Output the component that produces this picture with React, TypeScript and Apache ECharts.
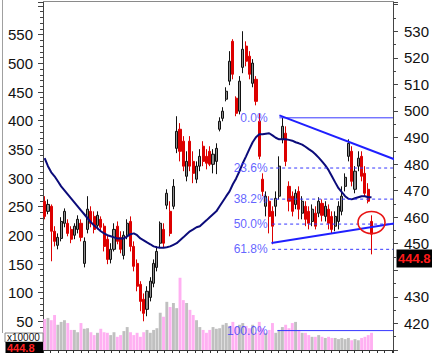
import React, { useEffect, useRef } from "react";
import * as echarts from "echarts";

// candle data: [open, close, low, high] (price, right axis)
const ohlc: [number, number, number, number][] = [
  [466.0, 460.3, 459.2, 467.9], [462.2, 464.8, 461.1, 466.7], [464.1, 454.7, 443.4, 464.8], [454.7, 450.9, 449.0, 456.6],
  [449.4, 452.4, 447.9, 453.9], [452.0, 458.4, 450.9, 460.0], [457.7, 462.2, 456.2, 463.3], [457.7, 453.9, 452.8, 459.2],
  [455.4, 451.7, 450.2, 456.6], [453.2, 456.6, 451.7, 457.7], [455.4, 459.2, 453.9, 460.7], [457.7, 452.4, 450.9, 459.2],
  [442.6, 450.9, 441.1, 452.4], [455.4, 463.0, 453.9, 467.9], [462.2, 457.7, 456.2, 464.1], [460.3, 455.4, 453.9, 462.2],
  [456.9, 460.7, 455.4, 462.2], [459.2, 456.2, 454.7, 460.3], [456.6, 449.0, 447.1, 457.7], [451.7, 444.1, 442.3, 453.2],
  [444.1, 447.9, 442.6, 450.2], [447.9, 455.4, 447.1, 457.7], [456.6, 450.9, 449.8, 458.4], [452.4, 447.9, 446.4, 454.7],
  [445.6, 453.2, 444.1, 454.7], [453.2, 457.7, 451.7, 459.2], [458.4, 449.0, 447.1, 460.3], [449.0, 441.5, 439.6, 450.9],
  [442.6, 434.0, 432.1, 444.1], [434.7, 428.3, 424.6, 435.9], [429.1, 423.8, 420.8, 431.3], [425.3, 432.1, 422.7, 434.0],
  [429.8, 435.9, 428.3, 437.4], [435.1, 442.6, 433.6, 444.1], [441.1, 447.1, 439.6, 449.0], [450.2, 457.7, 448.3, 458.4],
  [455.4, 450.2, 448.7, 457.7], [464.5, 469.0, 463.0, 470.5], [462.2, 453.9, 452.8, 466.0], [464.1, 471.6, 463.0, 474.3],
  [485.9, 492.3, 484.1, 498.0], [493.1, 484.8, 481.0, 495.4], [488.6, 479.2, 477.3, 490.5], [475.4, 481.0, 473.5, 484.8],
  [488.6, 479.2, 477.3, 490.5], [481.0, 476.5, 472.8, 484.8], [474.3, 479.2, 472.8, 481.0], [479.2, 482.9, 477.3, 485.6],
  [486.7, 481.0, 479.2, 488.6], [482.9, 480.3, 478.0, 485.6], [484.8, 479.9, 479.2, 486.7], [479.9, 483.7, 476.5, 485.6],
  [481.0, 485.9, 476.2, 487.8], [493.1, 496.1, 492.3, 497.6], [497.2, 499.9, 496.1, 501.4], [504.4, 507.4, 503.6, 508.9],
  [511.2, 518.7, 509.7, 522.5], [526.2, 513.8, 511.9, 527.0], [504.8, 499.1, 498.0, 505.5], [499.9, 511.2, 498.7, 513.1],
  [516.4, 523.2, 514.2, 530.0], [524.4, 518.7, 516.8, 526.2], [520.6, 513.8, 511.9, 522.5], [510.4, 518.0, 508.9, 519.5],
  [511.9, 503.6, 502.1, 513.1], [496.1, 482.9, 481.8, 499.1], [474.3, 469.7, 467.9, 476.5], [464.1, 467.9, 460.3, 469.7],
  [466.0, 460.3, 453.9, 467.9], [462.2, 456.6, 449.8, 464.1], [464.1, 467.1, 460.3, 469.7], [467.9, 479.2, 466.7, 482.9],
  [489.3, 494.2, 487.8, 497.4], [491.6, 481.0, 479.2, 494.2], [471.6, 466.0, 462.2, 473.5], [467.9, 462.2, 460.3, 469.7],
  [464.8, 469.0, 463.0, 470.5], [469.7, 463.0, 459.2, 471.6], [461.5, 466.0, 459.2, 467.9], [464.1, 459.2, 456.6, 466.0],
  [462.2, 457.7, 455.4, 464.1], [458.4, 463.0, 456.6, 464.8], [461.5, 456.6, 455.4, 464.1], [461.5, 466.0, 460.0, 467.5],
  [465.2, 460.7, 458.4, 466.7], [460.3, 464.1, 458.4, 466.0], [463.0, 457.7, 455.4, 464.8], [460.3, 455.4, 453.9, 462.2],
  [456.6, 460.3, 454.7, 462.2], [458.4, 464.1, 455.4, 466.0], [462.2, 467.9, 460.7, 471.6], [471.6, 475.0, 469.7, 476.5],
  [482.9, 487.8, 481.0, 489.3], [484.8, 473.5, 471.6, 486.7], [470.5, 477.3, 469.0, 479.2], [479.2, 482.2, 477.3, 484.8],
  [482.9, 475.4, 473.5, 484.8], [476.5, 469.0, 467.9, 479.2], [470.5, 466.0, 465.2, 472.8], [458.4, 453.6, 446.0, 460.7],
];

// moving average (price)
const movingAvg: number[] = [
  482.2, 479.2, 476.9, 475.4, 473.5, 471.6, 470.1, 468.6, 467.1, 465.6,
  464.1, 462.6, 461.1, 459.6, 458.1, 456.9, 455.8, 454.7, 453.9, 453.2,
  452.8, 452.4, 452.0, 452.0, 452.0, 452.8, 453.6, 453.9, 453.2, 452.0,
  451.3, 450.5, 449.8, 449.0, 448.7, 448.5, 448.5, 448.7, 449.0, 449.6,
  450.2, 451.3, 452.4, 453.6, 454.7, 455.4, 456.2, 456.6, 457.7, 458.8,
  460.0, 461.1, 462.2, 464.1, 466.0, 467.9, 469.7, 472.4, 474.6, 477.3,
  480.3, 482.9, 485.6, 488.2, 490.1, 491.2, 491.2, 491.4, 491.6, 490.8,
  489.9, 489.3, 489.3, 489.3, 489.1, 488.8, 488.2, 487.8, 487.3, 486.5,
  485.6, 484.8, 483.7, 482.4, 481.0, 479.5, 477.7, 475.4, 473.1, 470.9,
  469.4, 467.9, 466.9, 466.7, 467.1, 467.5, 467.9, 467.9, 467.5, 467.5,
];

// volume (x10000, left axis)
const volume: number[] = [
  54, 56, 52, 61, 44, 49, 52, 47, 35, 35,
  31, 47, 37, 38, 31, 26, 30, 37, 31, 30,
  26, 31, 23, 26, 33, 40, 31, 26, 30, 23,
  31, 35, 30, 35, 38, 65, 58, 84, 75, 82,
  73, 126, 87, 82, 70, 61, 52, 40, 35, 30,
  35, 40, 37, 38, 44, 47, 42, 49, 40, 44,
  47, 42, 38, 44, 30, 49, 38, 30, 35, 47,
  30, 35, 40, 44, 38, 47, 49, 35, 30, 30,
  26, 23, 23, 26, 23, 21, 23, 21, 21, 19,
  21, 19, 21, 17, 19, 17, 21, 23, 26, 30,
];

const slotCount = 106;
const categories: string[] = Array.from({ length: slotCount }, (_, i) => String(i + 1));

const fibLabels = ["0.0%", "23.6%", "38.2%", "50.0%", "61.8%", "100.0%"];
const fibLevels = [497.4, 478.5, 466.8, 457.4, 447.9, 417.3];
const fibStarts = [71.6, 68.8, 68.8, 69.4, 69.4, 71.0];
const fibDashed = [false, true, true, true, true, false];
const fibLabelX = 68.5;

const upperTrend: [number, number][] = [[71.6, 498.3], [107.9, 481.1]];
const lowerTrend: [number, number][] = [[69.2, 450.3], [107.3, 457.8]];

const lastPrice = 444.8;
const circleAt: [number, number] = [99, 458.0];

const FONT = "'Liberation Sans', Arial, sans-serif";
const NARROW = "'Liberation Sans Narrow', 'Liberation Sans', Arial, sans-serif";
const FIB_COLOR = "#3636ff";

export default function App() {
  const ref = useRef<HTMLDivElement>(null);

  useEffect(() => {
    if (!ref.current) return;
    const chart = echarts.init(ref.current, undefined, { renderer: "svg" });

    const fibSeries = fibLevels.map((lv, k) => ({
      type: "line",
      xAxisIndex: 1,
      yAxisIndex: 1,
      data: [[fibStarts[k], lv], [slotCount, lv]],
      symbol: "none",
      silent: true,
      z: 5,
      lineStyle: { color: FIB_COLOR, width: 1, type: fibDashed[k] ? [3, 3] : "solid" },
    }));

    const option: any = {
      animation: false,
      backgroundColor: "#ffffff",
      grid: { left: 43, right: 38, top: 2, bottom: 3 },
      xAxis: [
        {
          type: "category",
          data: categories,
          boundaryGap: true,
          axisLine: { show: true, lineStyle: { color: "#333", width: 1 } },
          axisTick: { show: false },
          axisLabel: { show: false },
          splitLine: { show: false },
        },
        {
          type: "value",
          min: 0,
          max: slotCount,
          interval: 2.3,
          position: "bottom",
          axisLine: { show: false },
          axisTick: { show: true, length: 4, lineStyle: { color: "#333" } },
          axisLabel: { show: false },
          splitLine: { show: false },
        },
      ],
      yAxis: [
        {
          type: "value",
          position: "left",
          min: 0,
          max: 607,
          interval: 50,
          axisLine: { show: true, lineStyle: { color: "#444" } },
          axisTick: { show: true, length: 5, lineStyle: { color: "#444" } },
          minorTick: { show: true, splitNumber: 5, length: 3, lineStyle: { color: "#444" } },
          axisLabel: {
            margin: 10,
            fontSize: 15,
            color: "#111",
            fontFamily: FONT,
            formatter: (v: number) => (v >= 50 && v <= 550 ? String(v) : ""),
          },
          splitLine: { show: false },
        },
        {
          type: "value",
          position: "right",
          min: 410,
          max: 541,
          interval: 10,
          axisLine: { show: true, lineStyle: { color: "#444" } },
          axisTick: { show: true, length: 5, lineStyle: { color: "#444" } },
          minorTick: { show: true, splitNumber: 2, length: 3, lineStyle: { color: "#444" } },
          axisLabel: {
            margin: 11,
            fontSize: 15,
            color: "#111",
            fontFamily: FONT,
            // 440 sits under the last-price tag, as in the reference
            formatter: (v: number) => (v >= 420 && v <= 530 && v !== 440 ? String(v) : ""),
          },
          splitLine: { show: false },
        },
      ],
      series: [
        {
          type: "bar",
          xAxisIndex: 0,
          yAxisIndex: 0,
          data: volume,
          barCategoryGap: "12%",
          z: 1,
          itemStyle: {
            color: (p: any) => (ohlc[p.dataIndex][1] >= ohlc[p.dataIndex][0] ? "#c0c0c0" : "#ffb0f2"),
          },
        },
        {
          type: "candlestick",
          xAxisIndex: 0,
          yAxisIndex: 1,
          data: ohlc,
          barWidth: 2.6,
          z: 2,
          itemStyle: {
            color: "#8e8e8e",
            color0: "#dd0000",
            borderColor: "#111111",
            borderColor0: "#dd0000",
            borderWidth: 1,
          },
        },
        {
          type: "line",
          xAxisIndex: 0,
          yAxisIndex: 1,
          data: movingAvg,
          symbol: "none",
          z: 3,
          lineStyle: { color: "#0b0b7a", width: 2 },
        },
        ...fibSeries,
        {
          type: "scatter",
          xAxisIndex: 1,
          yAxisIndex: 1,
          symbolSize: 1,
          itemStyle: { color: "rgba(0,0,0,0)" },
          z: 6,
          data: fibLevels.map((lv, k) => ({ value: [fibLabelX, lv], name: fibLabels[k] })),
          label: {
            show: true,
            position: "left",
            distance: 1,
            formatter: "{b}",
            color: "#3a3aff",
            fontSize: 12,
            fontFamily: NARROW,
          },
        },
        {
          type: "line",
          xAxisIndex: 1,
          yAxisIndex: 1,
          data: upperTrend,
          symbol: "none",
          clip: false,
          z: 7,
          lineStyle: { color: "#1f1fff", width: 2 },
        },
        {
          type: "line",
          xAxisIndex: 1,
          yAxisIndex: 1,
          data: lowerTrend,
          symbol: "none",
          clip: false,
          z: 7,
          lineStyle: { color: "#1f1fff", width: 2 },
        },
      ],
    };

    chart.setOption(option);

    const tagY = chart.convertToPixel({ yAxisIndex: 1 } as any, lastPrice) as unknown as number;
    const circ = chart.convertToPixel({ xAxisIndex: 0, yAxisIndex: 1 } as any, circleAt as any) as unknown as number[];

    chart.setOption({
      graphic: [
        { type: "line", shape: { x1: 43, y1: 1.5, x2: 394, y2: 1.5 }, style: { stroke: "#8a8a8a", lineWidth: 1 }, z: 10 },
        { type: "line", shape: { x1: 2.5, y1: 0, x2: 2.5, y2: 333 }, style: { stroke: "#a0a0a0", lineWidth: 1 }, z: 10 },
        { type: "rect", shape: { x: 5, y: 333, width: 38, height: 9 }, style: { fill: "#fff", stroke: "#888", lineWidth: 1 }, z: 10 },
        { type: "text", x: 7, y: 337.5, style: { text: "x10000", fontSize: 10, fontFamily: FONT, fill: "#111", textVerticalAlign: "middle" }, z: 11 },
        { type: "rect", shape: { x: 5.5, y: 342, width: 37.5, height: 11 }, style: { fill: "#000" }, z: 10 },
        { type: "text", x: 7, y: 347.5, style: { text: "444.8", fontSize: 11, fontWeight: "bold", fontFamily: FONT, fill: "#ff2020", textVerticalAlign: "middle" }, z: 11 },
        { type: "rect", shape: { x: 396.5, y: tagY - 8, width: 40, height: 18 }, style: { fill: "#000" }, z: 10 },
        { type: "text", x: 398, y: tagY + 1, style: { text: String(lastPrice), fontSize: 13, fontWeight: "bold", fontFamily: FONT, fill: "#ff1a1a", textVerticalAlign: "middle" }, z: 11 },
        { type: "ellipse", shape: { cx: circ[0], cy: circ[1], rx: 13.5, ry: 11 }, style: { fill: "none", stroke: "#e81414", lineWidth: 1.6 }, z: 12 },
      ],
    });

    return () => chart.dispose();
  }, []);

  return (
    <div
      ref={ref}
      style={{ position: "absolute", left: 0, top: 0, width: 432, height: 353, background: "#fff" }}
    />
  );
}
